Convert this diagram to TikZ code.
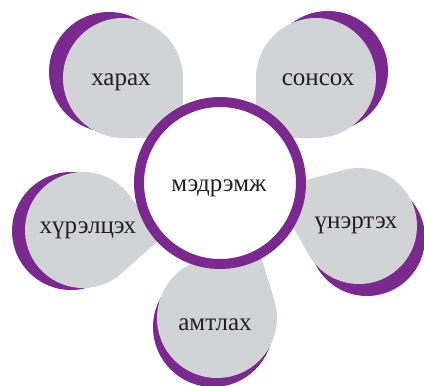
\documentclass[tikz,border=0pt]{standalone}
\usepackage{fontspec}
\setmainfont{Liberation Serif}
\usetikzlibrary{calc}
\definecolor{ringpurple}{RGB}{122,41,142}
\definecolor{petalgray}{RGB}{209,211,212}
\definecolor{txt}{RGB}{35,31,32}
\tikzset{
  crescent/.style={fill=ringpurple},
  petalfill/.style={fill=petalgray},
  lbl/.style={anchor=base, text=txt, font=\fontsize{25}{29}\selectfont, inner sep=0pt},
  hub/.style={circle, draw=ringpurple, line width=10pt, fill=white, minimum size=162pt, inner sep=0pt}
}
\begin{document}
\begin{tikzpicture}[x=1pt,y=-1pt]
\useasboundingbox (0,0) rectangle (424,386);
% purple crescents: cx, cy, r
\foreach \px/\py/\pr in {109/72/60, 328/71/60, 71/231/59, 367/238/58, 213/327/60}{
  \fill[crescent] (\px,\py) circle[radius=\pr];
}
% gray petals: cx, cy, r, tip angle, tip distance
\foreach \cx/\cy/\r/\ang/\d in {
  123/78/60/45/84.85,
  316/78/60/135/84.85,
  83/230/58/6/78.4,
  359/226/58/203/94.5,
  217/318/60/-62/85}{
  \pgfmathsetmacro\bt{acos(\r/\d)}
  \fill[petalfill] ($(\cx,\cy)+(\ang:\d)$) -- ($(\cx,\cy)+(\ang+\bt:\r)$)
     arc[start angle=\ang+\bt, end angle=\ang+360-\bt, radius=\r] -- cycle;
}
\node[hub] (center) at (220,183) {};
\node[lbl] (m) at (219,191) {мэдрэмж};
\node[lbl] (p1) at (121,85) {харах};
\node[lbl] (p2) at (318,85) {сонсох};
\node[lbl] (p3) at (88,233) {хүрэлцэх};
\node[lbl] (p4) at (356,228) {үнэртэх};
\node[lbl] (p5) at (215,330) {амтлах};
\end{tikzpicture}
\end{document}
